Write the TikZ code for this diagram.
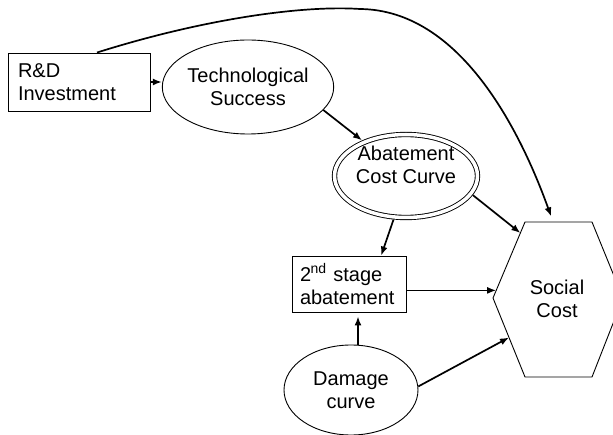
\documentclass[tikz,border=0pt]{standalone}
\usepackage{fontspec}
\setmainfont{Liberation Sans}
\usetikzlibrary{shapes.geometric,arrows.meta,calc}
\begin{document}
\begin{tikzpicture}[x=1pt,y=-1pt,
  every node/.style={font=\fontsize{20}{23}\selectfont},
  box/.style={draw,line width=0.9pt,rectangle,inner sep=0pt,align=left},
  ell/.style={draw,line width=0.9pt,ellipse,inner sep=0pt,align=center},
  arr/.style={line width=1.7pt,-{Latex[length=9pt,width=7pt]}}]
\clip (0,0) rectangle (613,435);
\node[box,minimum width=142pt,minimum height=58pt,text width=122pt] (rd) at (79,82) {R\&D\\Investment};
\node[ell,minimum width=144pt,minimum height=94pt] (ts) at (248,87) {Technological\\Success};
\node[ell,double,double distance=3.5pt,outer sep=2.8pt,minimum width=143pt,minimum height=83pt] (ab) at (406,176) {};
\node[align=center] (abt) at (406,165) {Abatement\\Cost Curve};
\node[box,minimum width=114pt,minimum height=56pt,text width=98pt] (ss) at (349,284) {2\textsuperscript{\kern-0.5pt nd} stage\\abatement};
\node[ell,minimum width=134pt,minimum height=90pt] (dm) at (351,390) {Damage\\curve};
\coordinate (hL) at (493,298);
\coordinate (hTL) at (525,222);
\coordinate (hTR) at (592,222);
\coordinate (hR) at (623,298);
\coordinate (hBR) at (592,377);
\coordinate (hBL) at (525,377);
\draw[line width=0.9pt] (hL) -- (hTL) -- (hTR) -- (hR) -- (hBR) -- (hBL) -- cycle;
\node[align=center] (sc) at (557,299) {Social\\Cost};
% connectors
\draw[arr] (rd.east) -- (rd.east -| ts.west);
\draw[arr,shorten >=6pt] ($(rd.north)+(18,0)$) .. controls (200,20) and (300,5) .. (360,9)
   .. controls (460,10) and (520,130) .. ($(hTL)!0.42!(hTR)$);
\draw[arr] (ts.-17) -- (ab.141);
\draw[arr] (ab.-106) -- ($(ss.north east)!0.22!(ss.north west)$);
\draw[arr] (ab.-16) -- ($(hL)!0.855!(hTL)$);
\coordinate (p2) at ($(hL)!0.1!(hTL)$);
\draw[arr] (ss.east |- p2) -- (p2);
\coordinate (d2) at ($(ss.south)+(9,4)$);
\draw[arr] (dm.north -| d2) -- (d2);
\draw[arr] (dm.3) -- ($(hL)!0.5!(hBL)$);
\end{tikzpicture}
\end{document}
